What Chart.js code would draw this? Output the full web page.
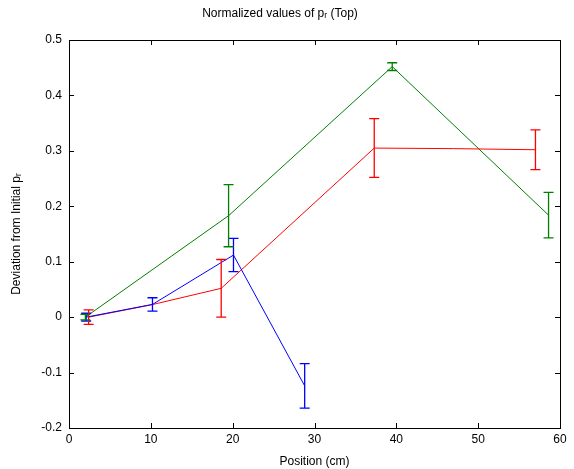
<!DOCTYPE html>
<html>
<head>
<meta charset="utf-8">
<script src="https://cdn.jsdelivr.net/npm/chart.js@4.4.0/dist/chart.umd.min.js"></script>
<style>
  html, body { margin: 0; padding: 0; background: #fff; }
  #wrap { width: 574px; height: 469px; }
</style>
</head>
<body>
<div id="wrap"><canvas id="plot"></canvas></div>
<script>
// positions (cm), values and error half-widths
var blueX = [2.1, 10.2, 20.1, 28.8];
var blueY = [0, 0.023, 0.112, -0.124];
var blueErr = [0.007, 0.012, 0.03, 0.04];

var redX = [2.4, 10, 18.6, 37.3, 47, 57];
var redY = [0, 0.022, 0.052, 0.305, 0.304, 0.302];
var redErr = [0.013, null, 0.052, 0.053, null, 0.036];

var greenX = [2, 19.5, 39.5, 58.6];
var greenY = [0, 0.183, 0.452, 0.184];
var greenErr = [0.005, 0.056, 0.007, 0.041];

var xTicks = [0, 10, 20, 30, 40, 50, 60];
var yTicks = [-0.2, -0.1, 0, 0.1, 0.2, 0.3, 0.4, 0.5];

var FONT = "'Liberation Sans', Arial, sans-serif";

function pts(xs, ys) {
    var out = [];
    for (var i = 0; i < xs.length; i++) out.push({x: xs[i], y: ys[i]});
    return out;
}

function series(label, xs, ys, errs, color) {
    return {
        label: label,
        data: pts(xs, ys),
        errors: errs,
        showLine: true,
        borderColor: color,
        backgroundColor: color,
        borderWidth: 1,
        pointRadius: 0,
        pointHoverRadius: 0,
        lineTension: 0
    };
}

// error bars + MATLAB style box with inward ticks
var matlabBits = {
    id: 'matlabBits',
    afterDatasetsDraw: function (chart) {
        var ctx = chart.ctx, xs = chart.scales.x, ys = chart.scales.y;
        ctx.save();
        chart.data.datasets.forEach(function (ds) {
            ctx.strokeStyle = ds.borderColor;
            ctx.lineWidth = 1.3;
            ds.data.forEach(function (p, i) {
                var e = ds.errors[i];
                if (e == null) return;
                var px = xs.getPixelForValue(p.x);
                var top = ys.getPixelForValue(p.y + e);
                var bot = ys.getPixelForValue(p.y - e);
                ctx.beginPath();
                ctx.moveTo(px, top); ctx.lineTo(px, bot);
                ctx.moveTo(px - 5, top); ctx.lineTo(px + 5, top);
                ctx.moveTo(px - 5, bot); ctx.lineTo(px + 5, bot);
                ctx.stroke();
            });
        });
        var a = chart.chartArea;
        ctx.strokeStyle = '#000';
        ctx.lineWidth = 1;
        ctx.strokeRect(Math.round(a.left) + 0.5, Math.round(a.top) + 0.5,
            Math.round(a.right - a.left), Math.round(a.bottom - a.top));
        ctx.beginPath();
        xTicks.forEach(function (t) {
            var px = Math.round(xs.getPixelForValue(t)) + 0.5;
            ctx.moveTo(px, a.bottom); ctx.lineTo(px, a.bottom - 5);
            ctx.moveTo(px, a.top); ctx.lineTo(px, a.top + 5);
        });
        yTicks.forEach(function (t) {
            var py = Math.round(ys.getPixelForValue(t)) + 0.5;
            ctx.moveTo(a.left, py); ctx.lineTo(a.left + 5, py);
            ctx.moveTo(a.right, py); ctx.lineTo(a.right - 5, py);
        });
        ctx.stroke();
        ctx.restore();
    }
};

new Chart(document.getElementById('plot').getContext('2d'), {
    type: 'scatter',
    data: {
        datasets: [
            series('blue', blueX, blueY, blueErr, 'rgb(0,0,255)'),
            series('red', redX, redY, redErr, 'rgb(255,0,0)'),
            series('green', greenX, greenY, greenErr, 'rgb(0,128,0)')
        ]
    },
    options: {
        responsive: true,
        maintainAspectRatio: false,
        animation: false,
        layout: { padding: { left: 0, right: 14, top: 0, bottom: 0 } },
        plugins: {
            legend: { display: false },
            tooltip: { enabled: false },
            title: {
                display: true,
                text: 'Normalized values of pᵣ (Top)',
                color: '#000',
                font: { family: FONT, size: 12, weight: 'normal' },
                padding: { top: 6, bottom: 19.6 }
            }
        },
        scales: {
            x: {
                type: 'linear',
                min: 0, max: 60,
                afterBuildTicks: function (s) { s.ticks = xTicks.map(function (v) { return {value: v}; }); },
                afterFit: function (s) { s.height = 41; },
                grid: { display: false, drawTicks: false },
                border: { display: false },
                ticks: {
                    color: '#000', padding: 4,
                    font: { family: FONT, size: 12 },
                    maxRotation: 0
                },
                title: {
                    display: true, text: 'Position (cm)', color: '#000',
                    font: { family: FONT, size: 12 }, padding: { top: 2, bottom: 0 }
                }
            },
            y: {
                type: 'linear',
                min: -0.2, max: 0.5,
                afterBuildTicks: function (s) { s.ticks = yTicks.map(function (v) { return {value: v}; }); },
                afterFit: function (s) { s.width = 69; },
                grid: { display: false, drawTicks: false },
                border: { display: false },
                ticks: {
                    color: '#000', padding: 7,
                    font: { family: FONT, size: 12 },
                    callback: function (v) { return String(Number(v.toFixed(1))); }
                },
                title: {
                    display: true, text: 'Deviation from Initial pᵣ', color: '#000',
                    font: { family: FONT, size: 12 }, padding: { top: 9, bottom: 4 }
                }
            }
        }
    },
    plugins: [matlabBits]
});
</script>
</body>
</html>
